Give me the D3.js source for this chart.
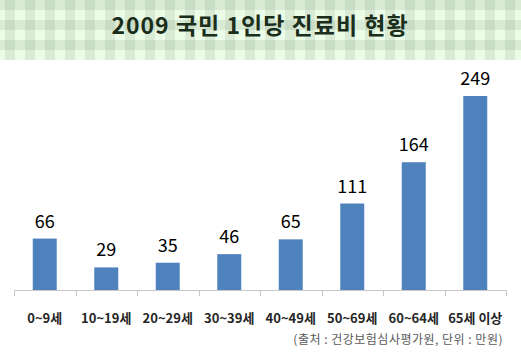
<!DOCTYPE html>
<html>
<head>
<meta charset="utf-8">
<script src="https://cdn.jsdelivr.net/npm/d3@7"></script>
<style>
  body { margin: 0; background: #fff; }
  svg { display: block; font-family: "Noto Sans CJK KR", "Noto Sans", sans-serif; }
</style>
</head>
<body>
<div id="chart"></div>
<script>
const title = '2009 국민 1인당 진료비 현황';
const categories = ['0~9세', '10~19세', '20~29세', '30~39세', '40~49세', '50~69세', '60~64세', '65세 이상'];
const values = [66, 29, 35, 46, 65, 111, 164, 249];
const source = '(출처 : 건강보험심사평가원, 단위 : 만원)';

const width = 521, height = 363;
const svg = d3.select('#chart').append('svg')
    .attr('width', width)
    .attr('height', height);

// gingham title band
const defs = svg.append('defs');
const pat = defs.append('pattern')
    .attr('id', 'gingham')
    .attr('patternUnits', 'userSpaceOnUse')
    .attr('width', 20)
    .attr('height', 20);
pat.append('rect').attr('width', 20).attr('height', 20).attr('fill', '#ebfce7');
pat.append('rect').attr('x', 0).attr('y', 0).attr('width', 20).attr('height', 10).attr('fill', '#d9ebd5');
pat.append('rect').attr('x', 5).attr('y', 10).attr('width', 10).attr('height', 10).attr('fill', '#d9ebd5');
pat.append('rect').attr('x', 5).attr('y', 0).attr('width', 10).attr('height', 10).attr('fill', '#c9ddc6');

svg.append('rect')
    .attr('width', width)
    .attr('height', 60)
    .attr('fill', 'url(#gingham)');

svg.append('text')
    .attr('x', 260)
    .attr('y', 34)
    .attr('text-anchor', 'middle')
    .attr('font-size', '23px')
    .attr('font-weight', 'bold')
    .attr('letter-spacing', '1px')
    .attr('fill', '#1b2e1b')
    .text(title);

const x = d3.scaleBand()
    .domain(categories)
    .range([14, 506])
    .paddingInner(0.61)
    .paddingOuter(0.305);

const y = d3.scaleLinear()
    .domain([0, d3.max(values)])
    .range([290, 96]);

const data = categories.map((c, i) => ({ cat: c, val: values[i] }));

svg.selectAll('.bar')
    .data(data)
    .enter().append('rect')
    .attr('class', 'bar')
    .attr('x', d => x(d.cat))
    .attr('y', d => y(d.val))
    .attr('width', x.bandwidth())
    .attr('height', d => y(0) - y(d.val))
    .attr('fill', '#4f81bd');

svg.selectAll('.val')
    .data(data)
    .enter().append('text')
    .attr('class', 'val')
    .attr('x', d => x(d.cat) + x.bandwidth() / 2)
    .attr('y', d => y(d.val) - 11)
    .attr('text-anchor', 'middle')
    .attr('font-size', '18px')
    .attr('fill', '#000')
    .text(d => d.val);

// axis with ticks between categories
const step = x.step();
const tickPos = d3.range(categories.length + 1).map(i => 14 + i * step);
const axis = svg.append('g').attr('class', 'axis');
axis.append('line')
    .attr('x1', 14).attr('x2', 506)
    .attr('y1', 290.5).attr('y2', 290.5)
    .attr('stroke', '#c8c8c8');
axis.selectAll('.tick')
    .data(tickPos)
    .enter().append('line')
    .attr('x1', d => Math.round(d) + 0.5).attr('x2', d => Math.round(d) + 0.5)
    .attr('y1', 290).attr('y2', 296)
    .attr('stroke', '#c8c8c8');

svg.selectAll('.cat')
    .data(categories)
    .enter().append('text')
    .attr('class', 'cat')
    .attr('x', d => x(d) + x.bandwidth() / 2)
    .attr('y', 323)
    .attr('text-anchor', 'middle')
    .attr('font-size', '13px')
    .attr('font-weight', 'bold')
    .attr('fill', '#262626')
    .text(d => d);

svg.append('text')
    .attr('x', 503)
    .attr('y', 344)
    .attr('text-anchor', 'end')
    .attr('font-size', '12px')
    .attr('letter-spacing', '0.5px')
    .attr('fill', '#595959')
    .text(source);
</script>
</body>
</html>
